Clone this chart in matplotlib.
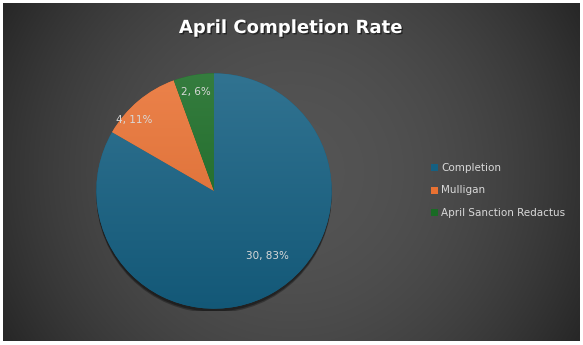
import numpy as np
import matplotlib.pyplot as plt
from matplotlib.patches import Rectangle, Circle
from matplotlib.colors import to_rgb
import matplotlib.patheffects as pe

labels = ["Completion", "Mulligan", "April Sanction Redactus"]
values = [30, 4, 2]
colors = ["#156082", "#E97132", "#196B24"]

W, H = 583, 345
fig = plt.figure(figsize=(W / 100, H / 100), dpi=100)
fig.patch.set_facecolor("white")

# background with radial gradient (distance in pixels)
bg = fig.add_axes([3 / W, 4 / H, 577 / W, 338 / H])
yy, xx = np.mgrid[-169:169:200j, -288:288:300j]
d = np.sqrt(xx ** 2 + yy ** 2) / 336
shade = 0.33 - 0.18 * d ** 2
img = np.dstack([shade, shade, shade])
bg.imshow(img, aspect="auto", extent=[0, 1, 0, 1], interpolation="bilinear")
bg.set_axis_off()

# pie
ax = fig.add_axes([(214 - 120) / W, (H - 191 - 120) / H, 240 / W, 240 / H])
ax.set_facecolor("none")
ax.add_patch(Circle((0.0, -0.025), 1.0, facecolor="black", alpha=0.35, edgecolor="none",
                    path_effects=[pe.SimplePatchShadow(offset=(0, -1), alpha=0.3), pe.Normal()]))
wedges, _ = ax.pie(values, colors=colors, startangle=90, counterclock=False,
                   radius=1.0, wedgeprops=dict(linewidth=0))

# soft top-to-bottom shading on each slice
t = np.linspace(0, 1, 100)[:, None]
for w, c in zip(wedges, colors):
    base = np.array(to_rgb(c))
    top = base + (1 - base) * 0.12
    bot = base * 0.92
    grad = top[None, None, :] * (1 - t[..., None]) + bot[None, None, :] * t[..., None]
    grad = np.repeat(grad, 2, axis=1)
    im = ax.imshow(grad, extent=[-1, 1, -1, 1], aspect="auto", zorder=w.get_zorder() + 0.1)
    im.set_clip_path(w)

total = sum(values)
label_pos = [(0.45, -0.55), (-0.68, 0.6), (-0.15, 0.84)]
for v, (lx, ly) in zip(values, label_pos):
    ax.text(lx, ly, f"{v}, {round(100 * v / total)}%", color="#d9d9d9",
            fontsize=7.5, ha="center", va="center", zorder=5)
ax.set_xlim(-1.02, 1.02)
ax.set_ylim(-1.02, 1.02)
ax.set_aspect("equal")
ax.set_axis_off()

# title
fig.text(290 / W, 1 - 28 / H, "April Completion Rate", color="white", fontsize=13,
         fontweight="bold", ha="center", va="center",
         path_effects=[pe.withSimplePatchShadow(offset=(1, -1), shadow_rgbFace="black", alpha=0.5)])

# legend
for i, lab in enumerate(labels):
    y = 1 - (168 + i * 22.5) / H
    fig.patches.append(Rectangle((431 / W, y - 3 / H), 7 / W, 7 / H, transform=fig.transFigure,
                                 facecolor=colors[i], edgecolor="none"))
    fig.text(441 / W, y + 0.5 / H, lab, color="#d9d9d9", fontsize=7.5, ha="left", va="center")

fig.savefig("out.png", dpi=100, facecolor=fig.get_facecolor())
